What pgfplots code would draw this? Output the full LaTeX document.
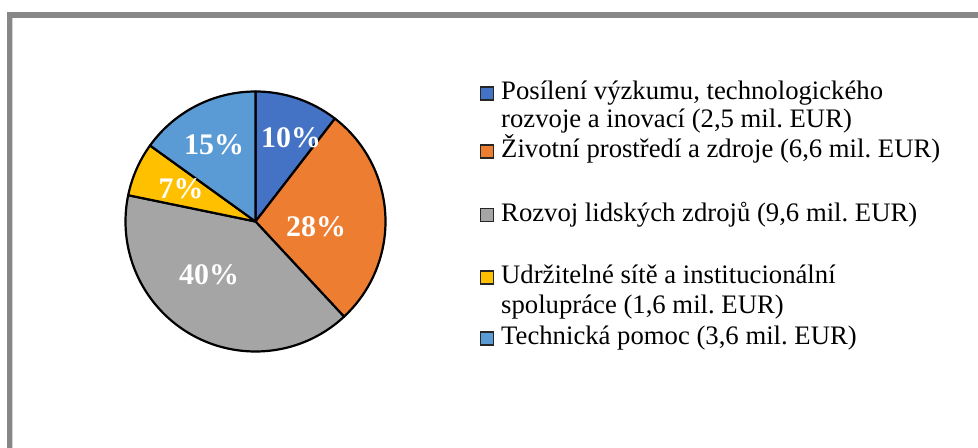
\documentclass[border=0pt]{standalone}
\usepackage{fontspec}
\setmainfont{Liberation Serif}
\usepackage{pgfplots}
\usepackage{pgfplotstable}
\pgfplotsset{compat=1.18}

\definecolor{cBlue}{HTML}{4472C4}
\definecolor{cOrange}{HTML}{ED7D31}
\definecolor{cGray}{HTML}{A5A5A5}
\definecolor{cYellow}{HTML}{FFC000}
\definecolor{cLBlue}{HTML}{5B9BD5}
\definecolor{frameGray}{HTML}{878787}
\definecolor{frameLight}{HTML}{D4D4D4}

% slices clockwise from 12 o'clock: value (mil. EUR), colour, label position, label
\pgfplotstableread{
val  col      lx   ly   lab
2.5  cBlue    291  310  10
6.6  cOrange  316  221  28
9.6  cGray    209  173  40
1.6  cYellow  181  259  7
3.6  cLBlue   214  303  15
}\slices

\def\total{0}
\pgfplotstableforeachcolumnelement{val}\of\slices\as\sval{%
  \pgfmathsetmacro\total{\total+\sval}\xdef\total{\total}}

\newcommand\legfont{\fontsize{26.8}{29}\selectfont}
\newcommand\legsq[2]{% y, colour
  \filldraw[fill=#2, draw=black!85, line width=1.8bp] (axis cs:480.5,#1-6.5) rectangle (axis cs:493.5,#1+6.5);}
\newcommand\legline[2]{% baseline y, text
  \node[anchor=base west, inner sep=0pt, font=\legfont] at (axis cs:501,#1) {#2};}

\begin{document}
\frenchspacing
\begin{tikzpicture}
\begin{axis}[
  width=978bp, height=448bp, scale only axis,
  xmin=0, xmax=978, ymin=0, ymax=448,
  enlargelimits=false, hide axis, clip=false,
]
% frame
\draw[frameLight, line width=1bp] (axis cs:12.8,0) |- (axis cs:978,430.2);
\draw[frameGray, line width=5.5bp, line join=miter] (axis cs:9.5,0) |- (axis cs:978,433.2);

% pie slices
\def\angA{90}
\pgfplotsforeachungrouped \i in {0,...,4}{%
  \pgfplotstablegetelem{\i}{val}\of\slices \let\sval=\pgfplotsretval
  \pgfplotstablegetelem{\i}{col}\of\slices \let\scol=\pgfplotsretval
  \pgfmathsetmacro\angB{\angA-360*\sval/\total}%
  \edef\cmd{\noexpand\filldraw[fill=\scol, draw=black, line width=2.2bp, line join=round]
    (axis cs:255.5,226.5) -- ++(\angA:130bp) arc[start angle=\angA, end angle=\angB, radius=130bp] -- cycle;}%
  \cmd
  \let\angA=\angB
}

% percent labels
\addplot[draw=none, mark=none, nodes near coords={\pgfplotspointmeta\%},
  point meta=explicit symbolic,
  nodes near coords style={anchor=center, text=white, inner sep=0pt,
    font=\fontsize{30}{30}\selectfont\bfseries}]
  table[x=lx, y=ly, meta=lab] {\slices};

% legend
\legsq{354.5}{cBlue}
\legsq{296.5}{cOrange}
\legsq{233}{cGray}
\legsq{170.5}{cYellow}
\legsq{109.5}{cLBlue}
\legline{348}{Posílení výzkumu, technologického}
\legline{320}{rozvoje a inovací (2,5 mil. EUR)}
\legline{290}{Životní prostředí a zdroje (6,6 mil. EUR)}
\legline{226}{Rozvoj lidských zdrojů (9,6 mil. EUR)}
\legline{164}{Udržitelné sítě a institucionální}
\legline{134}{spolupráce (1,6 mil. EUR)}
\legline{103}{Technická pomoc (3,6 mil. EUR)}
\end{axis}
\pgfresetboundingbox
\path[use as bounding box] (current axis.south west) rectangle (current axis.north east);
\end{tikzpicture}
\end{document}
